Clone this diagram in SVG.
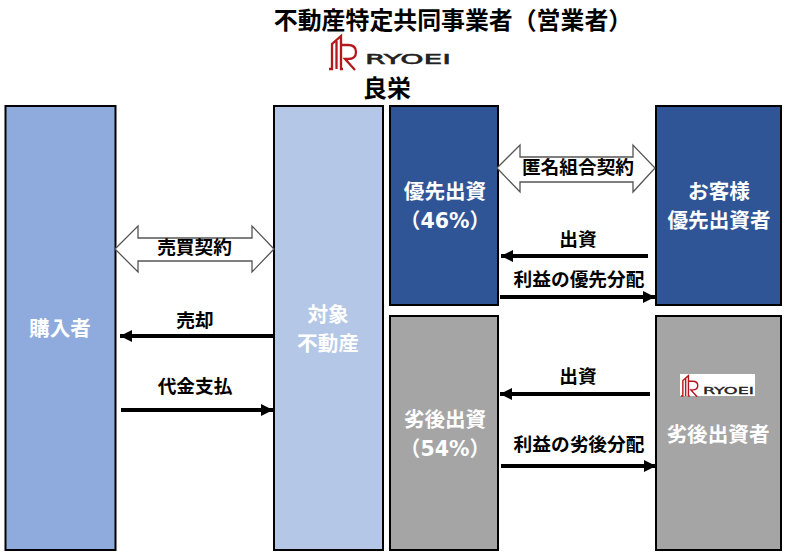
<svg xmlns="http://www.w3.org/2000/svg" width="789" height="557" viewBox="0 0 789 557">
<style>
text{font-family:"Noto Sans CJK JP","Noto Sans",sans-serif;font-weight:700;text-anchor:middle;text-spacing-trim:space-all}
.box{stroke:#000;stroke-width:2}
.w{fill:#fff;font-size:20.6px}
.n{font-family:"DejaVu Sans",sans-serif;font-size:20.5px}
.l{fill:#000;font-size:18.7px}
.t{fill:#000;font-size:23.9px}
.c{stroke:#000;stroke-width:4;fill:none;marker-end:url(#a)}
.d{fill:#fff;stroke:#555;stroke-width:1.3}
.logo{font-family:"DejaVu Sans",sans-serif;text-anchor:start;font-weight:400;fill:#222;stroke:#222}
</style>
<defs>
<marker id="a" markerUnits="userSpaceOnUse" markerWidth="12" markerHeight="14" refX="12" refY="7" orient="auto"><path d="M0 1L12 7L0 13Z" fill="#000"/></marker>
<g id="lg">
<path d="M0 34H3V9L12 1V34H14M7.500 34V6M13 10H19Q27 10 27 17Q27 24 19 24H16L26 35" fill="none" stroke="#b5181c" stroke-width="2.300"/>
</g>
</defs>
<g id="title">
<text class="t" x="453" y="29">不動産特定共同事業者（営業者）</text>
</g>
<g id="logo-top">
<use href="#lg" x="329" y="35"/>
<text class="logo" x="365" y="64" font-size="13.500" stroke-width=".5" textLength="86" lengthAdjust="spacingAndGlyphs">RYOEI</text>
<text class="t" x="387" y="97">良栄</text>
</g>
<g id="buyer"><rect class="box" x="5.500" y="106" width="110" height="444" fill="#8faadc"/><text class="w" x="60" y="336">購入者</text></g>
<g id="property"><rect class="box" x="274" y="106" width="109" height="444" fill="#b4c7e7"/><text class="w" x="328" y="321.500">対象</text><text class="w" x="328" y="350.500">不動産</text></g>
<g id="senior"><rect class="box" x="390" y="106" width="108" height="199" fill="#2f5597"/><text class="w" x="445" y="199">優先出資</text><text class="w" x="445" y="228">（<tspan class="n">46%</tspan>）</text></g>
<g id="senior-investor"><rect class="box" x="656" y="106" width="125" height="199" fill="#2f5597"/><text class="w" x="719" y="199">お客様</text><text class="w" x="719" y="228">優先出資者</text></g>
<g id="junior"><rect class="box" x="390" y="316" width="108" height="234" fill="#a5a5a5"/><text class="w" x="445" y="427">劣後出資</text><text class="w" x="445" y="456">（<tspan class="n">54%</tspan>）</text></g>
<g id="junior-investor"><rect class="box" x="656" y="316" width="125" height="234" fill="#a5a5a5"/>
<rect x="680" y="374" width="75" height="22" fill="#fff"/>
<use href="#lg" transform="translate(681 375) scale(.62)"/>
<text class="logo" x="703" y="394" font-size="8.500" stroke-width=".3" textLength="51" lengthAdjust="spacingAndGlyphs">RYOEI</text>
<text class="w" x="718" y="442">劣後出資者</text></g>
<g id="connectors">
<path class="d" d="M115 249L138 226V238H252V226L274 249L252 272V261H138V272Z"/>
<path class="d" d="M497 168L520 145V157H633V145L655 168L633 192V182H520V192Z"/>
<path class="c" d="M274 336H120"/>
<path class="c" d="M121 410H273"/>
<path class="c" d="M648 256H501"/>
<path class="c" d="M500 297H655"/>
<path class="c" d="M650 394H500"/>
<path class="c" d="M501 466H656"/>
</g>
<g id="labels">
<text class="l" x="194.500" y="254">売買契約</text>
<text class="l" x="578" y="174">匿名組合契約</text>
<text class="l" x="195" y="327">売却</text>
<text class="l" x="195" y="393">代金支払</text>
<text class="l" x="578" y="246">出資</text>
<text class="l" x="579" y="286">利益の優先分配</text>
<text class="l" x="578" y="383">出資</text>
<text class="l" x="579" y="451">利益の劣後分配</text>
</g>
</svg>
